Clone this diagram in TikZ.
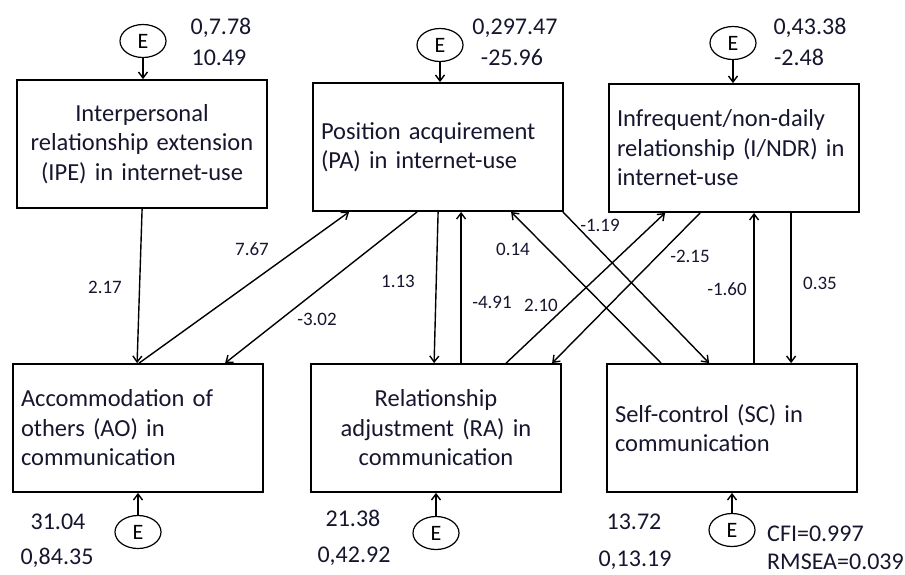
\documentclass[tikz,border=0pt]{standalone}
\usepackage{fontspec}
\setmainfont{Carlito}
\usepackage{xcolor}
\usepackage{tikz}
\usetikzlibrary{shapes.geometric,arrows.meta}
\definecolor{inkblue}{HTML}{16162E}

\begin{document}
\begin{tikzpicture}[x=1pt,y=-1pt,
  >={Straight Barb[length=6pt,width=9pt]},
  box/.style={draw, line width=1.8pt, minimum width=250pt, minimum height=128pt,
    text width=234pt, inner xsep=8pt, text=inkblue,
    font=\fontsize{24.5}{29.5}\selectfont},
  errc/.style={draw, ellipse, line width=1.2pt, minimum width=46pt, minimum height=33pt,
    inner sep=0pt, font=\fontsize{22}{24}\selectfont},
  num/.style={inner sep=0pt, text height=15.5pt, text depth=0pt, text=inkblue,
    font=\fontsize{24}{26}\selectfont},
  lbl/.style={inner sep=0pt, text height=12.2pt, text depth=0pt, text=inkblue,
    font=\fontsize{19}{20}\selectfont},
  path/.style={->, line width=1.4pt}]

\useasboundingbox (0,0) rectangle (905,574);

% Internet-use factors (top row)
\node[box, align=center] (ipe) at (142,144) {Interpersonal\\relationship extension\\(IPE) in internet-use};
\node[box, align=left] (pa) at (438,147) {Position acquirement\\(PA) in internet-use};
\node[box, align=left] (indr) at (734,148) {Infrequent/non-daily\\relationship (I/NDR) in\\internet-use};

% Communication factors (bottom row)
\node[box, align=left] (ao) at (138,428) {Accommodation of\\others (AO) in\\communication};
\node[box, align=center] (ra) at (436,428) {Relationship\\adjustment (RA) in\\communication};
\node[box, align=left] (sc) at (732,428) {Self-control (SC) in\\communication};

% Error terms
\foreach \n/\x/\y in {ipe/143/41, pa/440/45, indr/733/43} {
  \node[errc] (e\n) at (\x,\y) {E};
  \draw[path] (e\n.south) -- (e\n.south |- \n.north);
}
\foreach \n/\x/\y in {ao/138/532, ra/436/533, sc/732/530} {
  \node[errc] (e\n) at (\x,\y) {E};
  \draw[path] (e\n.north) -- (e\n.north |- \n.south);
}

% Paths between factors
\draw[path] ([xshift=126pt]ipe.south west) -- ([xshift=125pt]ao.north west);
\draw[path] ([xshift=127pt]ao.north west) -- ([xshift=37pt]pa.south west);
\draw[path] ([xshift=105pt]pa.south west) -- ([xshift=213pt]ao.north west);
\draw[path] ([xshift=126pt]pa.south west) -- ([xshift=124pt]ra.north west);
\draw[path] ([xshift=151pt]ra.north west) -- ([xshift=149pt]pa.south west);
\draw[path] ([xshift=55pt]sc.north west) -- ([xshift=199pt]pa.south west);
\draw[path] ([xshift=-1pt]pa.south east) -- ([xshift=103pt]sc.north west);
\draw[path] ([xshift=196pt]ra.north west) -- ([xshift=57pt]indr.south west);
\draw[path] ([xshift=92pt]indr.south west) -- ([xshift=242pt]ra.north west);
\draw[path] ([xshift=148pt]sc.north west) -- ([xshift=146pt]indr.south west);
\draw[path] ([xshift=183pt]indr.south west) -- ([xshift=185pt]sc.north west);

% Path coefficients
\node[lbl] (c1) at (105,287) {2.17};
\node[lbl] (c2) at (252,249) {7.67};
\node[lbl] (c3) at (317,319) {-3.02};
\node[lbl] (c4) at (398,281) {1.13};
\node[lbl] (c5) at (492,302) {-4.91};
\node[lbl] (c6) at (541,305) {2.10};
\node[lbl] (c7) at (513,249) {0.14};
\node[lbl] (c8) at (600,225) {-1.19};
\node[lbl] (c9) at (690,256) {-2.15};
\node[lbl] (c10) at (727,289) {-1.60};
\node[lbl] (c11) at (820,283) {0.35};

% Intercepts and variances
\node[num] (v1) at (221,27) {0,7.78};
\node[num] (v2) at (219,58) {10.49};
\node[num] (v3) at (515,27) {0,297.47};
\node[num] (v4) at (512,58) {-25.96};
\node[num] (v5) at (810,27) {0,43.38};
\node[num] (v6) at (799,58) {-2.48};
\node[num] (v7) at (58,522) {31.04};
\node[num] (v8) at (57,557) {0,84.35};
\node[num] (v9) at (353,519) {21.38};
\node[num] (v10) at (354,555) {0,42.92};
\node[num] (v11) at (634,522) {13.72};
\node[num] (v12) at (635,559) {0,13.19};

% Fit indices
\node[num, anchor=west] (cfi) at (767,534) {CFI=0.997};
\node[num, anchor=west] (rmsea) at (767,562) {RMSEA=0.039};

\end{tikzpicture}
\end{document}
